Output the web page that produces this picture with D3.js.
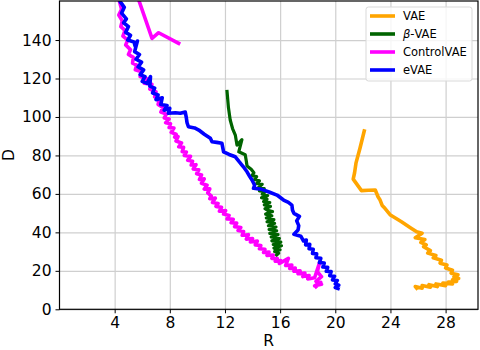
<html lang="en">
<head>
<meta charset="utf-8">
<title>R-D curves</title>
<script src="https://d3js.org/d3.v7.min.js"></script>
<style>
  body { margin: 0; background: #fff; }
  text { font-family: "DejaVu Sans", sans-serif; }
</style>
</head>
<body>
<div id="my_dataviz"></div>
<script>

// series names, shown in the legend
var names = ["VAE", "β-VAE", "ControlVAE", "eVAE"];

// tick labels
var xTicks = [4, 8, 12, 16, 20, 24, 28];
var yTicks = [0, 20, 40, 60, 80, 100, 120, 140];

// each series as [R, D] pairs
var vae = [
  [22.1,92.7],[21.8,84],[21.5,76],[21.4,71],[21.3,67.7],[21.9,61.7],[22.4,61.9],[22.9,62],
  [23.1,58.5],[23.25,56.8],[23.4,54],[23.6,52.5],[24.0,49],[24.8,45.5],[25.5,42.2],[25.9,40.3],
  [26.3,39.6],[25.8,37.2],[26.5,36.3],[26.2,34.8],[26.6,33.5],[26.4,32.5],[26.9,30.5],[26.7,29.2],
  [27.3,28.0],[27.1,26.8],[27.7,25.5],[27.6,24.0],[28.1,23.0],[28.0,21.5],[28.5,20.3],[28.4,18.8],
  [28.9,18.0],[28.6,16.8],[28.95,16.0],[28.5,15.3],[28.8,14.5],[28.2,14.2],[28.5,13.2],[27.8,13.6],
  [28.0,12.3],[27.3,13.2],[27.4,11.8],[26.8,12.8],[26.9,11.5],[26.3,12.4],[26.3,11.0],[25.8,11.8],
  [25.9,11.0]
];

var betaVae = [
  [12.15,113.3],[12.25,105],[12.38,98.4],[12.55,94],[12.75,90.6],[12.87,85.4],[13.23,88.2],[13.0,81.9],
  [13.47,80.4],[13.55,77],[13.6,74.5],[13.9,72.8],[14.1,71],[13.95,69.5],[14.3,69],[14.15,67.5],
  [14.5,66.8],[14.3,65.5],[14.7,65],[14.45,63.5],[14.85,62.8],[14.5,61.5],[14.95,61.3],[14.7,59.8],
  [15.1,59.2],[14.65,58],[15.05,57.3],[14.8,56],[15.25,55.5],[14.85,54.3],[15.3,53.5],[14.9,52.3],
  [15.1,51.5],[15.45,50.8],[14.95,49.5],[15.4,48.6],[15.0,47.5],[15.55,46.6],[15.05,45.5],[15.6,44.7],
  [15.15,43.5],[15.7,42.8],[15.2,41.5],[15.75,40.8],[15.25,39.5],[15.85,38.8],[15.35,37.6],[15.95,36.8],
  [15.4,35.6],[16.05,34.9],[15.5,33.7],[16.1,33],[15.55,31.8],[16.0,31],[15.6,30],[15.9,29.2],
  [15.75,28.2]
];

var controlVae = [
  [8.64,138.3],[7.19,143.8],[6.71,140.9],[5.4,168],[4.3,168],[4.35,160],[4.5,156],[4.3,153],
  [4.55,150],[4.45,147],[4.75,145],[4.6,142],[4.95,140],[4.8,137.5],[5.15,135],[5.0,132.5],
  [5.35,131],[5.3,128],[5.6,127],[5.5,124.5],[5.95,123.5],[5.85,121],[6.3,120],[6.15,117.5],
  [6.7,117],[6.55,114.5],[7.0,113],[6.9,110.5],[7.25,109.5],[7.15,106.5],[7.5,105],[7.35,102.5],
  [7.75,101.5],[7.6,99.5],[7.95,99],[7.7,97],[8.05,96.5],[7.95,94.5],[8.3,94.2],[8.1,92],
  [8.45,91],[8.35,89.5],[8.6,89.8],[8.45,87.5],[8.85,86.5],[8.65,84.5],[9.0,84.2],[8.9,82],
  [9.2,81.8],[9.05,80],[9.5,79.5],[9.3,77.5],[9.65,77],[9.55,75],[9.9,75.2],[9.7,73],
  [10.1,72.5],[9.95,70.5],[10.3,69.8],[10.15,67.5],[10.5,67.8],[10.3,65.5],[10.7,64.5],[10.5,62.5],
  [10.9,62.6],[10.75,60.5],[11.0,59],[10.9,57.5],[11.3,57.8],[11.1,55.5],[11.5,55],[11.35,53.5],
  [11.75,53],[11.6,51],[12.05,51.3],[11.9,49.5],[12.3,48.8],[12.15,47],[12.6,46.8],[12.45,45],
  [12.85,44.8],[12.7,43],[13.15,42.5],[12.95,41],[13.35,40.5],[13.25,38.5],[13.7,38.8],[13.55,36.5],
  [14.0,36.8],[13.85,35],[14.35,35.5],[14.2,33.5],[14.6,33.2],[14.5,31.5],[14.9,31.2],[14.8,29.5],
  [15.2,29.8],[15.05,28],[15.5,28.2],[15.4,26.5],[15.8,26.4],[15.65,25],[16.05,25.3],[15.95,23.8],
  [16.6,26.5],[16.4,22.8],[16.85,23],[16.7,21.2],[17.1,21.5],[17.0,19.8],[17.45,20],[17.3,18.5],
  [17.8,18.8],[17.65,17],[18.1,17.6],[18.0,15.8],[18.5,16.4],[18.85,24],[18.7,19.5],[19.0,17],
  [18.6,14.5],[19.0,13],[18.5,12.2],[18.95,14],[18.6,11.8]
];

var eVae = [
  [4.3,168],[4.4,160],[4.7,157],[4.5,154],[4.85,151],[4.65,149],[5.0,147],[4.8,144],
  [5.15,142.5],[4.95,140],[5.4,139],[5.5,136.5],[5.65,139.5],[5.45,134],[5.8,132.5],[5.55,130],
  [5.95,128.5],[5.7,126],[6.1,124.5],[5.85,122],[6.2,121],[6.0,118.5],[6.35,117.5],[6.6,121],
  [6.55,116],[6.9,115],[6.75,112.5],[7.15,111.5],[7.0,109],[7.45,110],[7.35,106.5],[7.8,106],
  [7.6,103.5],[8.0,104.5],[7.9,101.9],[8.4,102.2],[8.76,101.9],[9.12,102.6],[9.2,99.5],[9.25,97],
  [9.35,94.9],[9.8,94.3],[10.1,93.2],[10.5,91],[10.94,88.9],[11.06,87.1],[11.4,86.8],[11.78,86.3],
  [11.9,81.9],[12.3,80.5],[12.75,79.3],[13.0,77],[13.23,75],[13.4,73.5],[13.6,71.5],[13.8,69],
  [13.96,67.2],[14.15,64.5],[14.07,62.9],[14.6,62.5],[15.2,61],[15.77,59.4],[16.25,56.8],[16.6,55.6],
  [16.85,54.2],[16.9,51.5],[17.0,49.9],[17.4,48.3],[17.2,46],[17.35,43.5],[17.3,41.2],[17.0,39],
  [17.5,38],[17.7,35.5],[17.9,36],[17.85,33.5],[18.15,33.8],[18.1,31.5],[18.4,31.2],[18.35,29],
  [18.65,28.8],[18.6,26.8],[18.95,26.5],[18.85,24.3],[19.2,24],[19.1,22],[19.45,21.8],[19.35,19.8],
  [19.7,19.6],[19.6,17.5],[19.95,17.2],[19.8,15.3],[20.15,15],[20.0,13.2],[20.25,12.5],[20.0,11.3],
  [20.2,10.8]
];

var series = [vae, betaVae, controlVae, eVae];
var colors = ["orange", "darkgreen", "#ff00ff", "#0000ff"];

var width = 480, height = 350;
var plotL = 59.5, plotR = 478, plotT = 1, plotB = 309.3;

var svg = d3.select("#my_dataviz")
  .append("svg")
    .attr("width", width)
    .attr("height", height);

var x = d3.scaleLinear().domain([0, 30.35]).range([plotL, plotR]);
var y = d3.scaleLinear().domain([0, 160.3]).range([plotB, plotT]);

// grid
svg.append("g")
  .attr("transform", "translate(0," + plotB + ")")
  .call(d3.axisBottom(x).tickValues(xTicks).tickSize(-(plotB - plotT)).tickFormat(""))
  .call(function(g) { g.select(".domain").remove(); })
  .selectAll("line").attr("stroke", "#cfcfcf").attr("stroke-width", 1.2);
svg.append("g")
  .attr("transform", "translate(" + plotL + ",0)")
  .call(d3.axisLeft(y).tickValues(yTicks).tickSize(-(plotR - plotL)).tickFormat(""))
  .call(function(g) { g.select(".domain").remove(); })
  .selectAll("line").attr("stroke", "#cfcfcf").attr("stroke-width", 1.2);

// curves, clipped to the plot area
svg.append("clipPath").attr("id", "clip")
  .append("rect")
    .attr("x", plotL).attr("y", plotT)
    .attr("width", plotR - plotL).attr("height", plotB - plotT);

var line = d3.line()
  .x(function(d) { return x(d[0]); })
  .y(function(d) { return y(d[1]); });

svg.append("g").attr("clip-path", "url(#clip)")
  .selectAll("path")
  .data(series)
  .enter()
  .append("path")
    .attr("d", line)
    .attr("fill", "none")
    .attr("stroke", function(d, i) { return colors[i]; })
    .attr("stroke-width", function(d, i) { return i == 1 ? 3.2 : 3.6; })
    .attr("stroke-linejoin", "round")
    .attr("stroke-linecap", "square");

// axes
var xAxis = svg.append("g")
  .attr("transform", "translate(0," + plotB + ")")
  .call(d3.axisBottom(x).tickValues(xTicks).tickSize(4).tickPadding(4));
var yAxis = svg.append("g")
  .attr("transform", "translate(" + plotL + ",0)")
  .call(d3.axisLeft(y).tickValues(yTicks).tickSize(4).tickPadding(4));
[xAxis, yAxis].forEach(function(g) {
  g.select(".domain").remove();
  g.selectAll("text").attr("font-size", 15.5).attr("fill", "#000")
    .attr("font-family", "DejaVu Sans, sans-serif");
  g.selectAll("line").attr("stroke", "#000");
});

// frame
svg.append("rect")
  .attr("x", plotL).attr("y", plotT)
  .attr("width", plotR - plotL).attr("height", plotB - plotT)
  .attr("fill", "none").attr("stroke", "#000").attr("stroke-width", 1.2);

// axis labels
svg.append("text")
  .attr("x", (plotL + plotR) / 2).attr("y", 346)
  .attr("text-anchor", "middle").attr("font-size", 15.5)
  .text("R");
svg.append("text")
  .attr("transform", "translate(14," + ((plotT + plotB) / 2) + ") rotate(-90)")
  .attr("text-anchor", "middle").attr("font-size", 15.5)
  .text("D");

// legend
var legend = svg.append("g");
legend.append("rect")
  .attr("x", 366).attr("y", 7).attr("width", 106).attr("height", 74).attr("rx", 2.5)
  .attr("fill", "#fff").attr("fill-opacity", 0.8)
  .attr("stroke", "#d9d9d9").attr("stroke-width", 1);

var item = legend.selectAll(".item")
  .data(names)
  .enter()
  .append("g")
    .attr("class", "item")
    .attr("transform", function(d, i) { return "translate(0," + (16 + i * 18) + ")"; });
item.append("line")
  .attr("x1", 370).attr("x2", 395).attr("y1", 0).attr("y2", 0)
  .attr("stroke", function(d, i) { return colors[i]; })
  .attr("stroke-width", 3.6);
item.each(function(d) {
  var t = d3.select(this).append("text")
    .attr("x", 403).attr("y", 4).attr("font-size", 11.5).attr("fill", "#000");
  if (d.charAt(0) == "β") {
    t.append("tspan").attr("font-style", "italic").text("β");
    t.append("tspan").text(d.slice(1));
  } else {
    t.text(d);
  }
});

</script>
</body>
</html>
